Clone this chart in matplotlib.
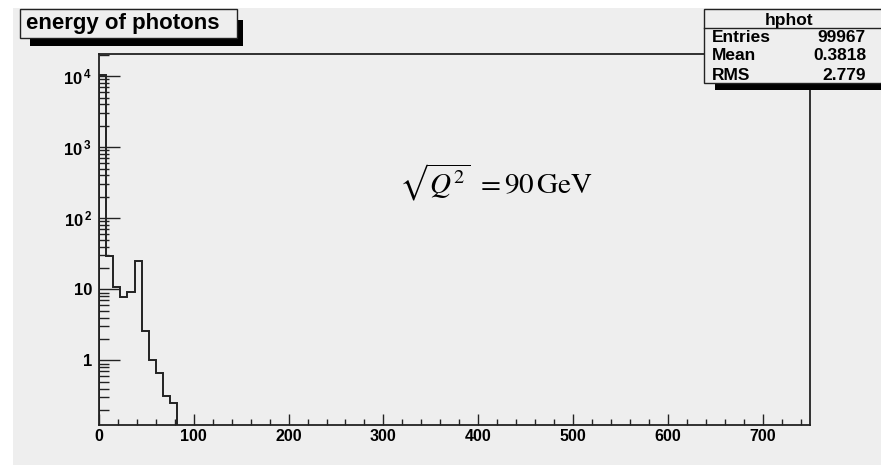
"""Спектр энергии фотонов (гистограмма hphot), логарифмическая шкала"""
import numpy as np
import matplotlib.pyplot as plt
from matplotlib.patches import Rectangle
from matplotlib.ticker import FixedLocator, FuncFormatter, NullFormatter

W, H = 881, 465
BG = "#eeeeee"
INK = "#222222"

# Содержимое бинов (ширина бина 7.5 ГэВ, начиная с 0)
bin_width = 7.5
counts = [10400, 29, 10.9, 7.7, 9.1, 25, 2.6, 1.0, 0.67, 0.31, 0.25]
x_ticks = [0, 100, 200, 300, 400, 500, 600, 700]
y_ticks = [1, 10, 100, 1000, 10000]
y_labels = ["1", "10", r"$\mathbf{10^{\,2}}$", r"$\mathbf{10^{\,3}}$", r"$\mathbf{10^{\,4}}$"]

title = "energy of photons"
stats_name = "hphot"
stats_rows = [("Entries", "99967"), ("Mean", "0.3818"), ("RMS", "2.779")]
note = r"$\sqrt{Q^{2}}\ = 90\,\mathrm{GeV}$"

plt.rcParams['font.family'] = ['Liberation Sans', 'DejaVu Sans']
plt.rcParams['mathtext.fontset'] = 'custom'
plt.rcParams['mathtext.bf'] = 'Liberation Sans:bold'
plt.rcParams['mathtext.rm'] = 'Liberation Sans:bold'


def fx(x):
    return x / W


def fy(y):
    return 1 - y / H


def box(fig, x0, y0, x1, y1, **kw):
    """Прямоугольник в пикселях фигуры (y сверху вниз)"""
    r = Rectangle((fx(x0), fy(y1)), fx(x1) - fx(x0), fy(y0) - fy(y1),
                  transform=fig.transFigure, **kw)
    fig.patches.append(r)
    return r


fig = plt.figure(figsize=(W / 100, H / 100), dpi=100, facecolor="white")
box(fig, 13, 8, W + 5, H + 5, facecolor=BG, edgecolor="none", zorder=-5)

# Рамка гистограммы
x0, x1, y0, y1 = 99, 810, 54, 425
ax = fig.add_axes([fx(x0), fy(y1), fx(x1) - fx(x0), fy(y0) - fy(y1)])
ax.set_facecolor(BG)

edges = np.arange(len(counts) + 1) * bin_width
ax.stairs(counts, edges, baseline=1e-3, color=INK, lw=1.4)

ax.set_yscale("log")
ax.set_xlim(0, 750)
ax.set_ylim(0.123, 2.05e4)

for s in ax.spines.values():
    s.set_color(INK)
    s.set_linewidth(1.3)

ax.xaxis.set_major_locator(FixedLocator(x_ticks))
ax.xaxis.set_minor_locator(FixedLocator(np.arange(0, 750, 20)))
ax.yaxis.set_major_locator(FixedLocator(y_ticks))
minor_y = [m * 10.0 ** e for e in range(-1, 5) for m in range(2, 10)]
ax.yaxis.set_minor_locator(FixedLocator(minor_y))
ax.yaxis.set_major_formatter(FuncFormatter(lambda v, p: dict(zip(y_ticks, y_labels)).get(v, "")))
ax.yaxis.set_minor_formatter(NullFormatter())

ax.tick_params(axis="x", which="major", direction="in", length=7.7, width=1.0,
               color=INK, labelsize=11.5, pad=3, top=False)
ax.tick_params(axis="x", which="minor", direction="in", length=4.0, width=1.0,
               color=INK, top=False)
ax.tick_params(axis="y", which="major", direction="in", length=15, width=1.0,
               color=INK, labelsize=12, pad=5, right=False)
ax.tick_params(axis="y", which="minor", direction="in", length=7.2, width=1.0,
               color=INK, right=False)
for lab in ax.get_xticklabels() + ax.get_yticklabels():
    lab.set_fontweight("bold")

# Подпись с энергией
fig.text(fx(399), fy(193), note, fontsize=21, math_fontfamily="stix",
         fontweight="normal", ha="left", va="baseline", color="black")

# Заголовок с тенью
box(fig, 30, 20, 243, 46, facecolor="black", edgecolor="none", zorder=3)
box(fig, 20, 9, 237, 38, facecolor=BG, edgecolor=INK, lw=1.0, zorder=4)
fig.text(fx(26), fy(29), title, fontsize=16, fontweight="bold",
         ha="left", va="baseline", zorder=5)

# Статистика
box(fig, 715, 84, W + 5, 90, facecolor="black", edgecolor="none", zorder=3)
box(fig, 704, 9, W + 5, 83, facecolor=BG, edgecolor=INK, lw=1.0, zorder=4)
fig.lines.append(plt.Line2D([fx(704), 1.0], [fy(28), fy(28)], transform=fig.transFigure,
                            color=INK, lw=1.0, zorder=5))
fig.text(fx(789), fy(25), stats_name, fontsize=12.5, fontweight="bold",
         ha="center", va="baseline", zorder=6)
for i, (name, val) in enumerate(stats_rows):
    yb = [42, 60, 80][i]
    fig.text(fx(712), fy(yb), name, fontsize=12.5, fontweight="bold",
             ha="left", va="baseline", zorder=6)
    fig.text(fx(866), fy(yb), val, fontsize=12.5, fontweight="bold",
             ha="right", va="baseline", zorder=6)

fig.savefig("out.png", dpi=100, facecolor="white")
